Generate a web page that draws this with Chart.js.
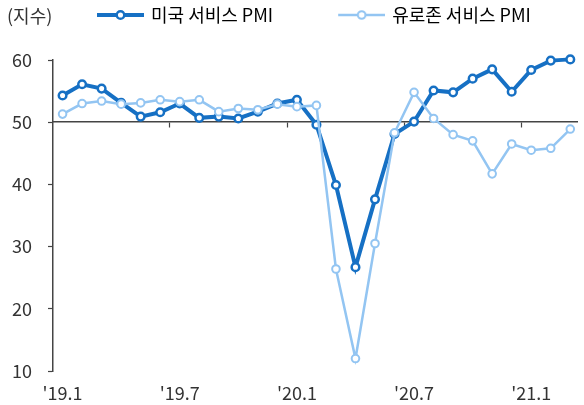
<!DOCTYPE html>
<html><head><meta charset="utf-8">
<script src="https://cdn.jsdelivr.net/npm/chart.js@4/dist/chart.umd.min.js"></script>
<style>html,body{margin:0;padding:0;background:#fff}canvas{display:block}</style>
</head><body>
<canvas id="c" width="584" height="405"></canvas>
<script>
const categories = ["'19.1","'19.2","'19.3","'19.4","'19.5","'19.6","'19.7","'19.8","'19.9","'19.10","'19.11","'19.12",
  "'20.1","'20.2","'20.3","'20.4","'20.5","'20.6","'20.7","'20.8","'20.9","'20.10","'20.11","'20.12",
  "'21.1","'21.2","'21.3"];
const tickLabels = ["'19.1","'19.7","'20.1","'20.7","'21.1"];
const yTicks = [10, 20, 30, 40, 50, 60];
const seriesNames = ['미국 서비스 PMI', '유로존 서비스 PMI'];
const unitLabel = '(지수)';
const usServicesPMI = [54.3,56.1,55.4,53.1,50.9,51.6,53.0,50.7,50.9,50.6,51.7,53.0,
  53.6,49.6,39.9,26.7,37.6,48.1,50.1,55.1,54.8,57.0,58.5,54.9,58.4,59.9,60.1];
const ezServicesPMI = [51.3,53.0,53.4,52.9,53.1,53.6,53.3,53.6,51.7,52.2,52.0,52.9,
  52.5,52.7,26.4,12.0,30.5,48.3,54.8,50.6,48.0,47.0,41.7,46.5,45.5,45.8,48.9];

const DARK = '#1670C4', LIGHT = '#93C5F2', AXIS = '#444', TXT = '#333';
const FONT = '"Noto Sans CJK KR", "Noto Sans", sans-serif';
Chart.defaults.font.family = FONT;
Chart.defaults.color = TXT;

const tickIdx = tickLabels.map(l => categories.indexOf(l));
const boundaryIdx = tickIdx.filter(i => i > 0).map(i => i - 0.5);
const X_MIN = -0.49, X_MAX = 26.37;
const PAD_L = 32, LEG_BOX = 104;

function legendImage(color, lw, bw) {
  const c = document.createElement('canvas');
  c.width = LEG_BOX + 4; c.height = 14;
  const g = c.getContext('2d');
  const x1 = c.width - 47, x2 = c.width;
  g.strokeStyle = color; g.lineWidth = lw;
  g.beginPath(); g.moveTo(x1, 7); g.lineTo(x2, 7); g.stroke();
  g.beginPath(); g.arc((x1 + x2) / 2, 7, 3.8, 0, Math.PI * 2);
  g.fillStyle = '#fff'; g.fill(); g.lineWidth = bw; g.stroke();
  return c;
}
const legendImgs = [legendImage(DARK, 4, 2.5), legendImage(LIGHT, 2.5, 2)];

const unitPlugin = {
  id: 'unitLabel',
  afterDraw(chart) {
    const ctx = chart.ctx;
    ctx.save();
    ctx.font = '18px ' + FONT;
    ctx.fillStyle = TXT;
    ctx.textBaseline = 'middle';
    ctx.textAlign = 'left';
    ctx.fillText(unitLabel, 7, 16);
    ctx.restore();
  }
};

new Chart(document.getElementById('c'), {
  type: 'line',
  data: {
    datasets: [
      { label: seriesNames[0], data: usServicesPMI.map((v, i) => ({x: i, y: v})),
        borderColor: DARK, backgroundColor: '#fff', borderWidth: 4,
        pointRadius: 3.8, pointBorderWidth: 2.5, pointBackgroundColor: '#fff', pointBorderColor: DARK,
        tension: 0, clip: false, order: 2 },
      { label: seriesNames[1], data: ezServicesPMI.map((v, i) => ({x: i, y: v})),
        borderColor: LIGHT, backgroundColor: '#fff', borderWidth: 2.5,
        pointRadius: 3.8, pointBorderWidth: 2, pointBackgroundColor: '#fff', pointBorderColor: LIGHT,
        tension: 0, clip: false, order: 1 }
    ]
  },
  options: {
    responsive: false, animation: false, devicePixelRatio: 1,
    layout: { padding: { left: PAD_L, right: 0, top: 0, bottom: 0 } },
    plugins: {
      tooltip: { enabled: false },
      legend: {
        position: 'top', align: 'start',
        labels: {
          usePointStyle: true, pointStyleWidth: LEG_BOX, padding: 6,
          font: { size: 18, family: FONT }, color: TXT,
          generateLabels: (chart) => chart.data.datasets.map((ds, i) => ({
            text: ds.label, pointStyle: legendImgs[i], datasetIndex: i,
            fillStyle: '#fff', strokeStyle: ds.borderColor, lineWidth: 0, hidden: false
          }))
        }
      }
    },
    scales: {
      x: {
        type: 'linear', position: { y: 50 }, min: X_MIN, max: X_MAX,
        afterBuildTicks: s => { s.ticks = boundaryIdx.map(v => ({ value: v })); },
        ticks: { display: false },
        grid: { display: true, drawOnChartArea: false, drawTicks: true, tickLength: 5, tickColor: AXIS, tickWidth: 1.2 },
        border: { display: true, color: AXIS, width: 1.5 }
      },
      xLabels: {
        type: 'linear', axis: 'x', position: 'bottom', min: X_MIN, max: X_MAX,
        afterBuildTicks: s => { s.ticks = tickIdx.map(v => ({ value: v })); },
        afterFit: s => { s.height = 34; },
        ticks: { display: true, autoSkip: false, maxRotation: 0, padding: 11,
          font: { size: 18 }, color: TXT,
          callback: (v) => tickLabels[tickIdx.indexOf(v)] },
        grid: { display: false, drawTicks: false },
        border: { display: false }
      },
      xTop: {
        type: 'linear', axis: 'x', position: 'top',
        afterFit: s => { s.height = 26; },
        ticks: { display: false },
        grid: { display: false, drawTicks: false },
        border: { display: false }
      },
      y: {
        type: 'linear', position: 'left', min: 10, max: 60,
        afterBuildTicks: s => { s.ticks = yTicks.map(v => ({ value: v })); },
        afterFit: s => { s.width = 53 - PAD_L; },
        ticks: { mirror: true, padding: -41, font: { size: 18 }, color: TXT },
        grid: { display: true, drawOnChartArea: false, drawTicks: true, tickLength: 5, tickColor: AXIS, tickWidth: 1.2 },
        border: { display: true, color: AXIS, width: 1.5 }
      }
    }
  },
  plugins: [unitPlugin]
});
</script>
</body></html>
